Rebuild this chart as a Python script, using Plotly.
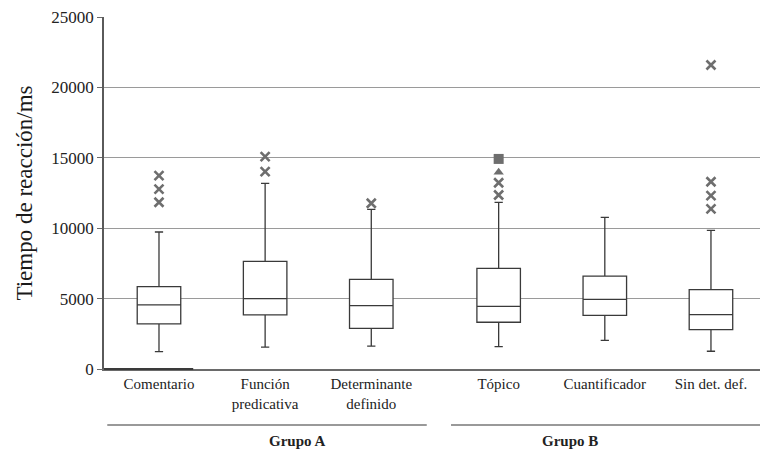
import plotly.graph_objects as go

# Conditions and their horizontal slots (a wider gap separates the two groups)
categories = ["Comentario", "Función<br>predicativa", "Determinante<br>definido",
              "Tópico", "Cuantificador", "Sin det. def."]
positions = [0, 1, 2, 3.2, 4.2, 5.2]

# Box summary statistics (ms)
lower_whisker = [1230, 1560, 1630, 1590, 2040, 1260]
q1_values = [3200, 3840, 2890, 3320, 3810, 2800]
medians = [4550, 5000, 4500, 4450, 4950, 3860]
q3_values = [5850, 7650, 6370, 7150, 6600, 5640]
upper_whisker = [9730, 13190, 11340, 11840, 10770, 9850]

# Outliers drawn with a cross marker (category index, value)
cross_outlier_idx = [0, 0, 0, 1, 1, 2, 3, 3, 5, 5, 5, 5]
cross_outlier_val = [13730, 12780, 11840, 15080, 14020, 11770,
                     12360, 13230, 13300, 12310, 11370, 21590]
# Extreme values in the Tópico condition
triangle_idx = [3]
triangle_val = [13970]
square_idx = [3]
square_val = [14920]

y_ticks = [0, 5000, 10000, 15000, 20000, 25000]
y_tick_text = ["0", "5000", "10000", "15000", "20000", "25000"]

group_labels = ["Grupo A", "Grupo B"]

fig = go.Figure()

for i, p in enumerate(positions):
    fig.add_trace(go.Box(
        x=[p], q1=[q1_values[i]], median=[medians[i]], q3=[q3_values[i]],
        lowerfence=[lower_whisker[i]], upperfence=[upper_whisker[i]],
        width=0.41, whiskerwidth=0.19, boxpoints=False,
        fillcolor="white", line=dict(color="#3a3a3a", width=1.3),
        hoverinfo="skip", showlegend=False,
    ))

marker_grey = "#6e6e6e"
fig.add_trace(go.Scatter(
    x=[positions[i] for i in cross_outlier_idx], y=cross_outlier_val,
    mode="markers",
    marker=dict(symbol="x-thin-open", size=9, color=marker_grey,
                line=dict(color=marker_grey, width=2.6)),
    showlegend=False, hoverinfo="skip",
))
fig.add_trace(go.Scatter(
    x=[positions[i] for i in triangle_idx], y=triangle_val, mode="markers",
    marker=dict(symbol="triangle-up", size=9, color=marker_grey),
    showlegend=False, hoverinfo="skip",
))
fig.add_trace(go.Scatter(
    x=[positions[i] for i in square_idx], y=square_val, mode="markers",
    marker=dict(symbol="square", size=10, color=marker_grey),
    showlegend=False, hoverinfo="skip",
))

serif = "Liberation Serif"

fig.update_layout(
    width=760, height=460,
    margin=dict(l=104, r=0, t=17, b=91),
    paper_bgcolor="white", plot_bgcolor="white",
    font=dict(family=serif, color="#222"),
    xaxis=dict(
        range=[-0.518, 5.662], tickvals=positions, ticktext=categories,
        showgrid=False, zeroline=False, ticks="",
        tickfont=dict(size=15, family=serif, color="#222"),
        showline=True, linecolor="#6a6a6a", linewidth=2,
    ),
    yaxis=dict(
        range=[0, 25000], tickvals=y_ticks, ticktext=y_tick_text,
        showgrid=True, gridcolor="#9a9a9a", gridwidth=1,
        zeroline=False, ticks="outside", ticklen=5, tickcolor="#6a6a6a",
        tickfont=dict(size=17, family=serif, color="#222"),
        showline=True, linecolor="#5a5a5a", linewidth=1.5,
        title=dict(text="Tiempo de reacción/ms",
                   font=dict(size=23, family=serif, color="#1a1a1a"), standoff=12),
    ),
    shapes=[
        # darker segment of the baseline near the origin
        dict(type="line", xref="paper", yref="paper", x0=0, x1=0.136, y0=0, y1=0,
             line=dict(color="#3a3a3a", width=2)),
        # group brackets below the category labels
        dict(type="line", xref="paper", yref="paper", x0=0.005, x1=0.492,
             y0=-0.159, y1=-0.159, line=dict(color="#777", width=1.5)),
        dict(type="line", xref="paper", yref="paper", x0=0.529, x1=1.0,
             y0=-0.159, y1=-0.159, line=dict(color="#777", width=1.5)),
    ],
    annotations=[
        dict(text="<b>" + group_labels[0] + "</b>", xref="paper", yref="paper",
             x=0.248, y=-0.233, showarrow=False,
             font=dict(size=15, family=serif, color="#222")),
        dict(text="<b>" + group_labels[1] + "</b>", xref="paper", yref="paper",
             x=0.756, y=-0.233, showarrow=False,
             font=dict(size=15, family=serif, color="#222")),
    ],
)

fig.write_html("out.html")
